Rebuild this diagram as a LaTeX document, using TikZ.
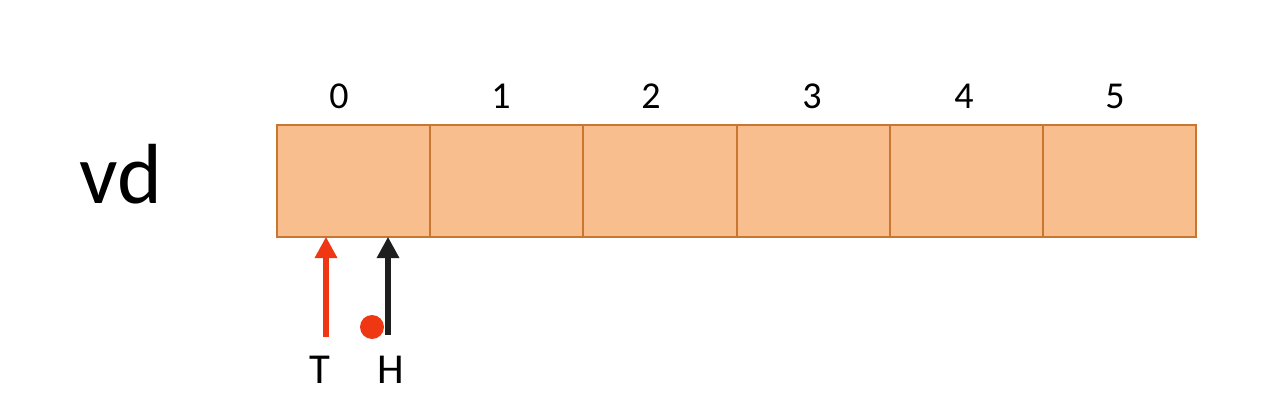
\documentclass[tikz,border=0pt]{standalone}
\usepackage{fontspec}
\setmainfont{Carlito}
\usetikzlibrary{arrows.meta, positioning}
\definecolor{cellfill}{RGB}{248,190,142}
\definecolor{celldraw}{RGB}{200,118,48}
\definecolor{tailred}{RGB}{240,55,20}
\definecolor{headblack}{RGB}{30,30,30}
\tikzset{
  cell/.style={draw=celldraw, fill=cellfill, line width=1.5pt, inner sep=0pt, outer sep=0pt,
    minimum width=153.2*0.75pt, minimum height=111.7*0.75pt},
  idx/.style={font=\fontsize{28.5}{30}\selectfont, anchor=base, inner sep=0pt},
  ptr/.style={line width=5pt, -{Triangle[width=16pt,length=16pt]}},
  ptrlabel/.style={font=\fontsize{32}{34}\selectfont, anchor=base, inner sep=0pt}
}
\begin{document}
\begin{tikzpicture}[x=0.75pt, y=-0.75pt]
          \useasboundingbox (0,0) rectangle (1278,413);
          % Array name
          \node[font=\fontsize{64}{66}\selectfont, anchor=base, inner sep=0pt] (name) at (121,204) {vd};
          % Cells
          \foreach \i in {0,...,5}
            \node[cell] (c\i) at (353.6+153.2*\i,180.9) {};
          % Indices
          \foreach \i/\x in {0/339,1/501,2/651,3/812,4/964,5/1115}
            \node[idx] (l\i) at (\x,109) {\i};
          % Tail and head pointers
          \coordinate (ttail) at (326,337);
          \coordinate (htail) at (388,335);
          \draw[ptr, tailred] (ttail) -- (ttail |- c0.south);
          \draw[ptr, headblack] (htail) -- (htail |- c0.south);
          \node[ptrlabel] (tlabel) at (320,383) {T};
          \node[ptrlabel] (hlabel) at (391,383) {H};
          % Dot
          \fill[tailred] (372,327) circle (9pt);
        \end{tikzpicture}
\end{document}
